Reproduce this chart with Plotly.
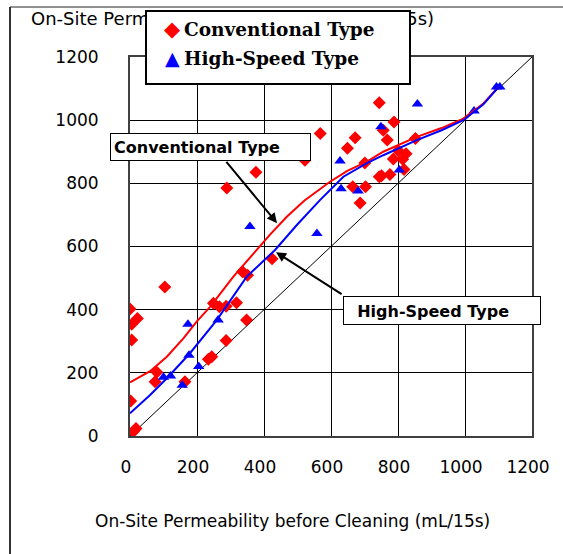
import plotly.graph_objects as go

# ---- data ----
conv_x = [0, 5, 22, 5, 2, 10, 18, 80, 75, 104, 164, 234, 244, 287, 348, 249, 267, 287, 318,
          336, 351, 424, 289, 376, 522, 568, 649, 672, 744, 756, 768, 788, 701, 665, 703, 687,
          744, 751, 776, 818, 786, 814, 801, 824, 852]
conv_y = [402, 354, 372, 304, 111, 14, 24, 202, 172, 472, 172, 243, 251, 302, 367, 420, 409, 411, 422,
          520, 509, 561, 785, 835, 873, 958, 911, 944, 1055, 968, 937, 994, 864, 789, 789, 738,
          821, 824, 828, 844, 877, 876, 903, 894, 942]

hs_x = [156, 100, 121, 176, 205, 173, 263, 358, 558, 627, 630, 681, 749, 804, 858, 1027, 1094, 1104]
hs_y = [161, 186, 190, 256, 220, 354, 367, 663, 641, 871, 783, 776, 979, 842, 1051, 1029, 1105, 1105]

conv_curve_x = [0, 60, 110, 160, 199, 239, 308, 378, 420, 468, 520, 597, 650, 706, 756, 856, 930, 995, 1055, 1100]
conv_curve_y = [170, 205, 251, 310, 362, 409, 504, 589, 640, 694, 745, 805, 840, 868, 900, 947, 975, 1005, 1053, 1105]

hs_curve_x = [0, 60, 110, 179, 259, 348, 433, 498, 567, 637, 706, 756, 856, 930, 995, 1055, 1100]
hs_curve_y = [72, 130, 183, 262, 367, 504, 589, 668, 747, 821, 863, 889, 937, 968, 1000, 1050, 1105]

diag_x = [0, 1200]
diag_y = [0, 1200]

tick_vals = [0, 200, 400, 600, 800, 1000, 1200]
tick_text = ["0", "200", "400", "600", "800", "1000", "1200"]

names = ["Conventional Type", "High-Speed Type"]
x_title = "On-Site Permeability before Cleaning (mL/15s)"
y_title = "On-Site Permeability after Cleaning (mL/15s)"

RED = "#FF0000"
BLUE = "#0000FF"

fig = go.Figure()

fig.add_trace(go.Scatter(x=diag_x, y=diag_y, mode="lines",
                         line=dict(color="black", width=1), showlegend=False, hoverinfo="skip"))
fig.add_trace(go.Scatter(x=conv_x, y=conv_y, mode="markers", name=names[0],
                         marker=dict(symbol="diamond", size=10, color=RED), showlegend=False))
fig.add_trace(go.Scatter(x=hs_x, y=hs_y, mode="markers", name=names[1],
                         marker=dict(symbol="triangle-up", size=10, color=BLUE), showlegend=False))
fig.add_trace(go.Scatter(x=conv_curve_x, y=conv_curve_y, mode="lines",
                         line=dict(color=RED, width=2), showlegend=False))
fig.add_trace(go.Scatter(x=hs_curve_x, y=hs_curve_y, mode="lines",
                         line=dict(color=BLUE, width=2), showlegend=False))

axis_common = dict(
    range=[0, 1200], tickvals=tick_vals, ticktext=tick_text,
    showgrid=True, gridcolor="black", gridwidth=1,
    showline=True, mirror=True, linecolor="#404040", linewidth=2,
    ticks="", zeroline=False,
    tickfont=dict(family="DejaVu Sans", size=17, color="black"),
)
fig.update_xaxes(**axis_common, ticklabelstandoff=15, ticklabelshift=-4)
fig.update_yaxes(**axis_common, ticklabelstandoff=26)

# plot area in pixels: left 130, right 532, top 57, bottom 436
W, H = 563, 554
L, R, T, B = 130, 532, 57, 436


def px(xp):
    return (xp - L) / (R - L)


def py(yp):
    return (B - yp) / (B - T)


annotations = [
    dict(text=x_title, xref="paper", yref="paper", x=px(292), y=py(521),
         xanchor="center", yanchor="middle", showarrow=False,
         font=dict(family="DejaVu Sans", size=17, color="black")),
    dict(text=y_title, xref="paper", yref="paper", x=px(29), y=py(19),
         xanchor="left", yanchor="middle", showarrow=False,
         font=dict(family="DejaVu Sans", size=18, color="black")),
    # legend box (drawn above the y title, as in the reference)
    dict(text=" ", xref="paper", yref="paper", x=px(145), y=py(10),
         xanchor="left", yanchor="top", showarrow=False,
         width=262, height=71, borderpad=0, bgcolor="white", bordercolor="black", borderwidth=2),
    dict(text="◆", xref="paper", yref="paper", x=px(172), y=py(29),
         xanchor="center", yanchor="middle", showarrow=False,
         font=dict(family="DejaVu Sans", size=21, color=RED)),
    dict(text="▲", xref="paper", yref="paper", x=px(172), y=py(58),
         xanchor="center", yanchor="middle", showarrow=False,
         font=dict(family="DejaVu Sans", size=19, color=BLUE)),
    dict(text=names[0], xref="paper", yref="paper", x=px(182), y=py(29),
         xanchor="left", yanchor="middle", showarrow=False,
         font=dict(family="DejaVu Serif", size=18.5, color="black", weight="bold")),
    dict(text=names[1], xref="paper", yref="paper", x=px(182), y=py(59),
         xanchor="left", yanchor="middle", showarrow=False,
         font=dict(family="DejaVu Serif", size=18.5, color="black", weight="bold")),
    # arrows
    dict(text="", x=439, y=674, ax=284, ay=873, xref="x", yref="y", axref="x", ayref="y",
         showarrow=True, arrowhead=2, arrowsize=1, arrowwidth=2, arrowcolor="black"),
    dict(text="", x=436, y=582, ax=636, ay=446, xref="x", yref="y", axref="x", ayref="y",
         showarrow=True, arrowhead=2, arrowsize=1, arrowwidth=2, arrowcolor="black"),
    # text boxes
    dict(text="<b>Conventional Type</b>", xref="paper", yref="paper", x=px(110), y=py(133),
         xanchor="left", yanchor="top", showarrow=False, align="left",
         width=193, height=20, borderpad=3, bgcolor="white", bordercolor="black", borderwidth=1,
         font=dict(family="DejaVu Sans", size=16, color="black")),
    dict(text="&nbsp;&nbsp;<b>High-Speed Type</b>", xref="paper", yref="paper", x=px(343), y=py(296),
         xanchor="left", yanchor="top", showarrow=False, align="left", valign="bottom",
         width=190, height=21, borderpad=3, bgcolor="white", bordercolor="black", borderwidth=1,
         font=dict(family="DejaVu Sans", size=16, color="black")),
]

shapes = [
    dict(type="line", xref="paper", yref="paper", x0=px(10), x1=px(563), y0=py(7), y1=py(7),
         line=dict(color="#222222", width=1)),
    dict(type="line", xref="paper", yref="paper", x0=px(10), x1=px(10), y0=py(7), y1=py(554),
         line=dict(color="#333333", width=2)),
]

fig.update_layout(
    width=W, height=H,
    margin=dict(l=L, r=W - R, t=T, b=H - B),
    paper_bgcolor="white", plot_bgcolor="white",
    showlegend=False,
    annotations=annotations,
    shapes=shapes,
)

fig.write_html("out.html")
